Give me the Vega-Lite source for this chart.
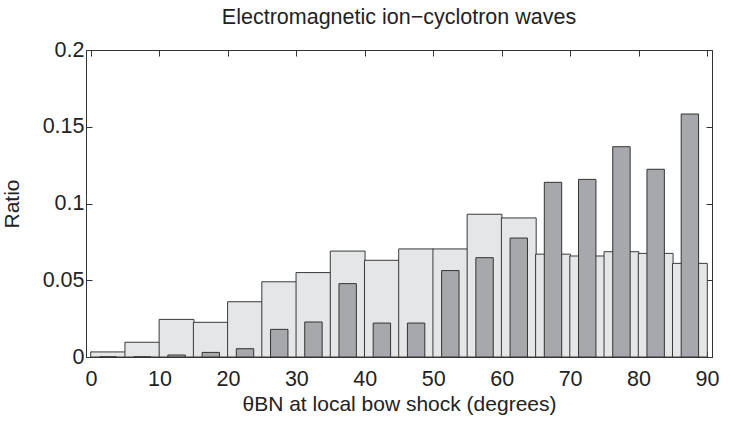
{
  "$schema": "https://vega.github.io/schema/vega-lite/v6.json",
  "autosize": "none",
  "width": 626,
  "height": 307,
  "padding": {"left": 86, "top": 50, "right": 20, "bottom": 70},
  "background": "white",
  "title": {
    "text": "Electromagnetic ion\u2212cyclotron waves",
    "font": "Liberation Sans",
    "fontSize": 21.5,
    "fontWeight": "normal",
    "color": "#222",
    "offset": 11
  },
  "config": {
    "view": {"stroke": "#333", "strokeWidth": 1},
    "axis": {
      "grid": false,
      "labelFont": "Liberation Sans",
      "titleFont": "Liberation Sans",
      "labelFontSize": 21.5,
      "titleFontSize": 21,
      "labelColor": "#222",
      "titleColor": "#222",
      "titleFontWeight": "normal",
      "domainColor": "#333",
      "tickColor": "#333",
      "tickSize": -6
    }
  },
  "data": {
    "values": [
      {"theta": 2.5, "all": 0.0033, "emic": 0},
      {"theta": 7.5, "all": 0.0096, "emic": 0},
      {"theta": 12.5, "all": 0.0245, "emic": 0.0013},
      {"theta": 17.5, "all": 0.0226, "emic": 0.003},
      {"theta": 22.5, "all": 0.036, "emic": 0.0054},
      {"theta": 27.5, "all": 0.049, "emic": 0.018},
      {"theta": 32.5, "all": 0.055, "emic": 0.0228},
      {"theta": 37.5, "all": 0.069, "emic": 0.0478},
      {"theta": 42.5, "all": 0.063, "emic": 0.0221},
      {"theta": 47.5, "all": 0.0704, "emic": 0.0221},
      {"theta": 52.5, "all": 0.0704, "emic": 0.0563},
      {"theta": 57.5, "all": 0.093, "emic": 0.0647},
      {"theta": 62.5, "all": 0.0906, "emic": 0.0775},
      {"theta": 67.5, "all": 0.067, "emic": 0.1138},
      {"theta": 72.5, "all": 0.0658, "emic": 0.1157},
      {"theta": 77.5, "all": 0.0686, "emic": 0.137},
      {"theta": 82.5, "all": 0.0675, "emic": 0.1223},
      {"theta": 87.5, "all": 0.061, "emic": 0.1583}
    ]
  },
  "layer": [
    {
      "mark": {"type": "bar", "size": 34.8, "color": "#e5e6e8", "stroke": "#3a3a3a", "strokeWidth": 1},
      "encoding": {
        "x": {
          "field": "theta", "type": "quantitative",
          "scale": {"domain": [0, 90], "nice": false},
          "axis": {"values": [0,10,20,30,40,50,60,70,80,90], "title": "\u03b8BN at local bow shock (degrees)", "labelPadding": 17, "titlePadding": 4}
        },
        "y": {
          "field": "all", "type": "quantitative",
          "scale": {"domain": [0, 0.2], "nice": false},
          "axis": {"values": [0, 0.05, 0.1, 0.15, 0.2], "format": "~g", "title": "Ratio", "labelPadding": 8, "titlePadding": 20}
        }
      }
    },
    {
      "mark": {"type": "bar", "size": 17.4, "color": "#a7a8ab", "stroke": "#333", "strokeWidth": 1},
      "encoding": {
        "x": {"field": "theta", "type": "quantitative", "scale": {"domain": [0, 90], "nice": false}, "axis": {"orient": "top", "values": [0,10,20,30,40,50,60,70,80,90], "labels": false, "title": null, "domain": false}},
        "y": {"field": "emic", "type": "quantitative", "scale": {"domain": [0, 0.2], "nice": false}, "axis": {"orient": "right", "values": [0, 0.05, 0.1, 0.15, 0.2], "labels": false, "title": null, "domain": false}}
      }
    }
  ],
  "resolve": {"axis": {"x": "independent", "y": "independent"}}
}
